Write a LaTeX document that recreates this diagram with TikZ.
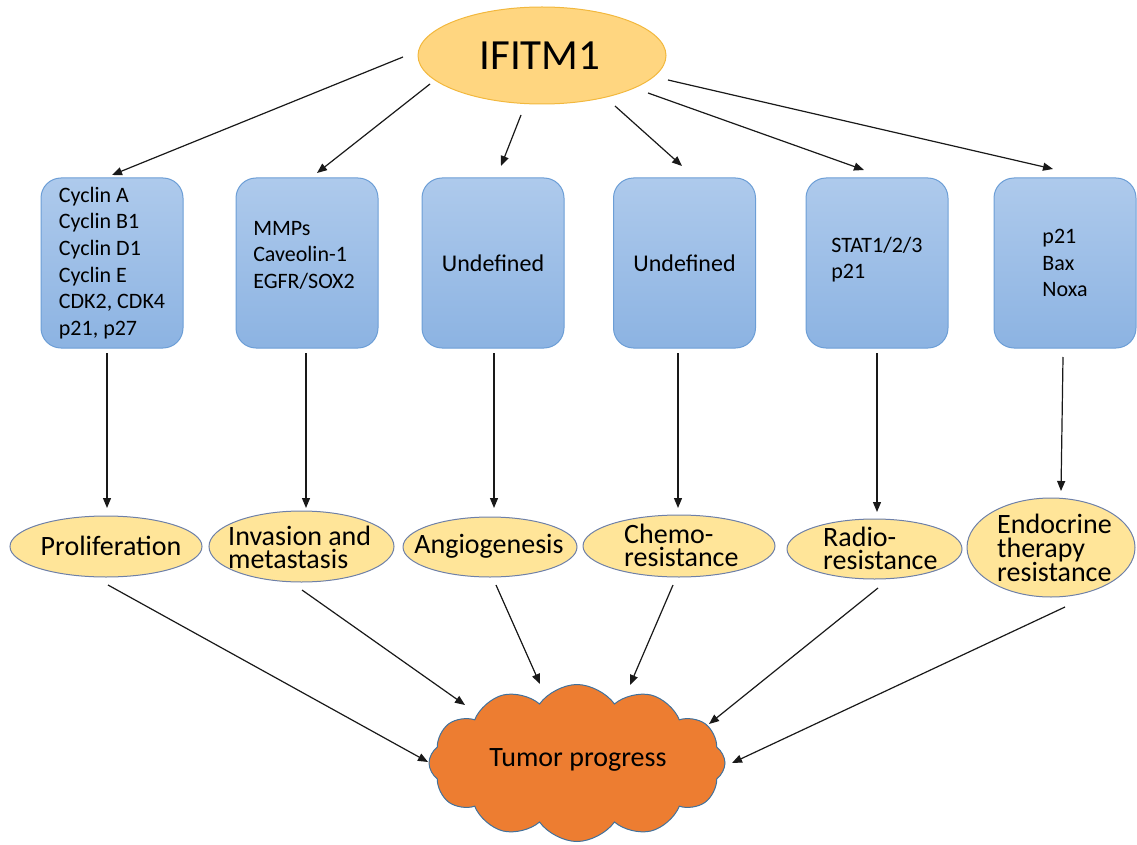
\documentclass[tikz,border=0pt]{standalone}
\usepackage{fontspec}
\setmainfont{Carlito}
\usetikzlibrary{shapes.geometric,shapes.symbols,arrows.meta}
\definecolor{ifill}{RGB}{255,214,128}
\definecolor{idraw}{RGB}{242,184,62}
\definecolor{btop}{RGB}{174,202,236}
\definecolor{bbot}{RGB}{140,179,226}
\definecolor{bdraw}{RGB}{108,158,214}
\definecolor{efill}{RGB}{255,229,153}
\definecolor{edraw}{RGB}{110,128,168}
\definecolor{cfill}{RGB}{237,125,49}
\definecolor{cdraw}{RGB}{65,113,156}
\definecolor{arr}{RGB}{25,25,25}
\tikzset{
  ifitmshape/.style={ellipse, fill=ifill, draw=idraw, line width=1pt, minimum width=248pt, minimum height=97pt, inner sep=0pt},
  pbox/.style={rectangle, rounded corners=20pt, top color=btop, bottom color=bbot, draw=bdraw, line width=1pt,
    minimum width=142pt, minimum height=170pt, inner sep=0pt, align=left, font=\fontsize{22}{26.6}\selectfont},
  ell/.style={ellipse, fill=efill, draw=edraw, line width=1pt, inner sep=0pt},
  etext/.style={align=left, inner sep=0pt, font=\fontsize{28}{23}\selectfont},
  conn/.style={draw=arr, line width=1.2pt, -{Triangle[length=10pt,width=8pt]}},
  cloudshape/.style={cloud, cloud puffs=12, cloud puff arc=110, cloud ignores aspect, fill=cfill, draw=cdraw,
    line width=1pt, minimum width=296pt, minimum height=157pt, inner sep=0pt}
}
\begin{document}
\begin{tikzpicture}[x=1pt,y=-1pt]
\useasboundingbox (0,0) rectangle (1137,845);
% top
\node[ifitmshape] (ifitm) at (542,55.5) {};
\node[inner sep=0pt, font=\fontsize{43}{50}\selectfont] (ifitmtext) at (540,55.5) {IFITM1};
% boxes
\node[pbox] (b1) at (112,263) {Cyclin A\\Cyclin B1\\Cyclin D1\\Cyclin E\\CDK2, CDK4\\p21, p27};
\node[pbox] (b2) at (307,263) {\hspace*{-6pt}MMPs\\\hspace*{-6pt}Caveolin-1\\\hspace*{-6pt}EGFR/SOX2\\[-10pt]\mbox{}};
\node[pbox, font=\fontsize{24}{28}\selectfont] (b3) at (493,263) {Undefined};
\node[pbox, font=\fontsize{24}{28}\selectfont] (b4) at (684.5,263) {Undefined};
\node[pbox] (b5) at (877,263) {\mbox{}\\[-18pt]STAT1/2/3\\p21};
\node[pbox] (b6) at (1065,263) {p21\\Bax\\Noxa};
% ellipses
\node[ell, minimum width=192pt, minimum height=61pt] (e1) at (106,546.5) {};
\node[etext] (t1) at (111,546) {Proliferation};
\node[ell, minimum width=185pt, minimum height=71pt] (e2) at (301.5,546.5) {};
\node[etext, anchor=west] (t2) at (228,547) {Invasion and\\metastasis};
\node[ell, minimum width=174pt, minimum height=60pt] (e3) at (490,547) {};
\node[etext] (t3) at (489,546) {Angiogenesis};
\node[ell, minimum width=192pt, minimum height=62pt] (e4) at (679,546) {};
\node[etext, anchor=west] (t4) at (624,545) {Chemo-\\resistance};
\node[ell, minimum width=175pt, minimum height=60pt] (e5) at (874.5,549) {};
\node[etext, anchor=west] (t5) at (823,548) {Radio-\\resistance};
\node[ell, minimum width=168pt, minimum height=99pt] (e6) at (1051,547.5) {};
\node[etext, anchor=west, font=\fontsize{28}{24}\selectfont] (t6) at (997,548) {Endocrine\\therapy\\resistance};
% cloud
\node[cloudshape] (tumor) at (577,763) {};
\node[inner sep=0pt, font=\fontsize{28}{32}\selectfont] (tumortext) at (578,760) {Tumor progress};
% connector end points
\coordinate (s1) at (403,57);  \coordinate (h1) at (112,175);
\coordinate (s2) at (430,84);  \coordinate (h2) at (317,173);
\coordinate (s3) at (521,115); \coordinate (h3) at (501,166);
\coordinate (s4) at (615,106); \coordinate (h4) at (682,166);
\coordinate (s5) at (648,93);  \coordinate (h5) at (864,170);
\coordinate (s6) at (668,80);  \coordinate (h6) at (1053,169);
\draw[conn] (s1) -- (h1);
\draw[conn] (s2) -- (h2);
\draw[conn] (s3) -- (h3);
\draw[conn] (s4) -- (h4);
\draw[conn] (s5) -- (h5);
\draw[conn] (s6) -- (h6);
% vertical
\coordinate (v1a) at (107,353); \coordinate (v1b) at (107,508);
\coordinate (v2a) at (306,353); \coordinate (v2b) at (306,508);
\coordinate (v3a) at (494,353); \coordinate (v3b) at (494,508);
\coordinate (v4a) at (678,353); \coordinate (v4b) at (678,508);
\coordinate (v5a) at (877,353); \coordinate (v5b) at (877,512);
\coordinate (v6a) at (1063,357); \coordinate (v6b) at (1061,491);
\draw[conn] (v1a) -- (v1b);
\draw[conn] (v2a) -- (v2b);
\draw[conn] (v3a) -- (v3b);
\draw[conn] (v4a) -- (v4b);
\draw[conn] (v5a) -- (v5b);
\draw[conn] (v6a) -- (v6b);
% to cloud
\coordinate (c1a) at (108,585);  \coordinate (c1b) at (428,762);
\coordinate (c2a) at (302,590);  \coordinate (c2b) at (465,705);
\coordinate (c3a) at (496,585);  \coordinate (c3b) at (540,684);
\coordinate (c4a) at (673,585);  \coordinate (c4b) at (630,685);
\coordinate (c5a) at (878,588);  \coordinate (c5b) at (709,724);
\coordinate (c6a) at (1065,607); \coordinate (c6b) at (732,763);
\draw[conn] (c1a) -- (c1b);
\draw[conn] (c2a) -- (c2b);
\draw[conn] (c3a) -- (c3b);
\draw[conn] (c4a) -- (c4b);
\draw[conn] (c5a) -- (c5b);
\draw[conn] (c6a) -- (c6b);
\end{tikzpicture}
\end{document}
